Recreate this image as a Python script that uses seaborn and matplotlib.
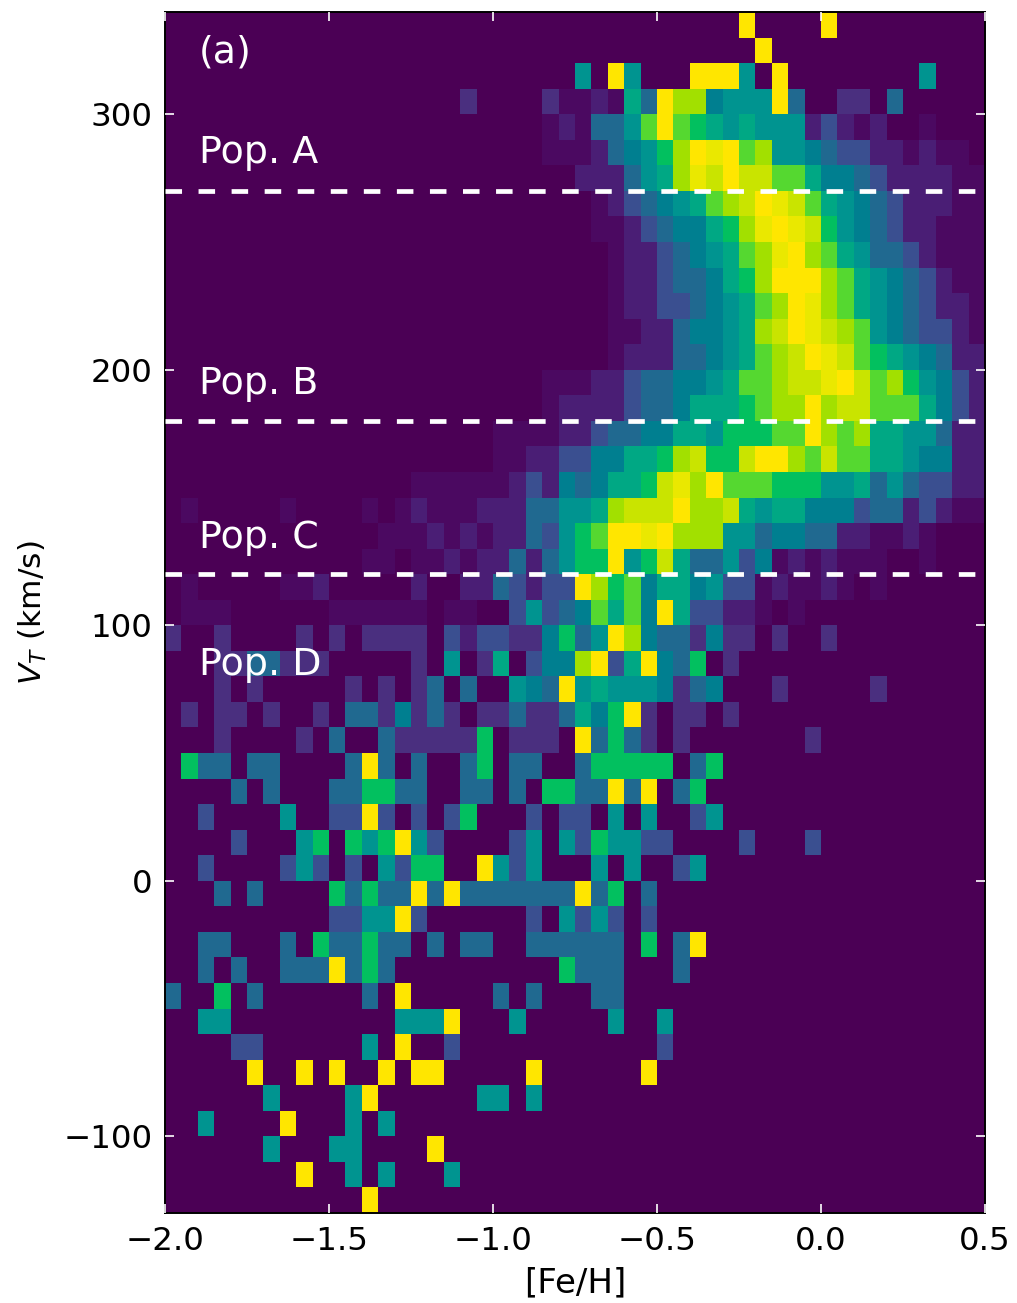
import numpy as np
import pandas as pd
import matplotlib
matplotlib.use("Agg")
import matplotlib.pyplot as plt
from matplotlib.colors import LinearSegmentedColormap
import seaborn as sns

# Each row is one 10 km/s bin, five groups of ten 0.05 dex bins.
# digits = tenths of the row maximum, - faint, p sparse purple, L Y near max, X max
rows_330_to_270 = [
    "0000000000 0000000000 0000000000 00000X0000 X000000000",
    "0000000000 0000000000 0000000000 000000X000 0000000000",
    "0000000000 0000000000 0000050X50 00XXX50X00 0000005000",
    "0000000000 00000000p0 000p--1-63 X994555X30 0pp0300000",
    "0000000000 0000000000 000-1-3358 X876565551 21-100-000",
    "0000000000 0000000000 000---1345 79XYX89554 32211-1--0",
    "0000000000 0000000000 0000011135 69YLXLL886 44321111--",
]
rows_260_to_200 = [
    "0000000000 0000000000 000000-123 45689LXYL8 65432111--",
    "0000000000 0000000000 000000--12 344679YXYL 7543211---",
    "0000000000 0000000000 0000000-11 2345689YX9 8653321---",
    "0000000000 0000000000 0000000-11 2334679XXX 98654321--",
    "0000000000 0000000000 0000000-11 22345689XY 986543211-",
    "0000000000 0000000000 0000000--1 1344569LXY L98543221-",
    "0000000000 0000000000 0000000-11 13345689LX YL87654311",
]
rows_190_to_130 = [
    "0000000000 0000000000 000---1123 34456889LL YXL8975421",
    "0000000000 0000000000 000-111123 346667899X 9LL8886421",
    "0000000000 0000000000 ----112334 466577788X 9896655311",
    "0000000000 0000000000 --11224466 79L77LXX98 L886654411",
    "0000000000 00000----- -121434667 LY9X888777 5563532211",
    "0-00000-00 00-0-1---1 1133556 9LL LX99L65664 44233121--",
    "0000000000 000---1-1- 1132578XXY X999553443 311--1-000",
]
rows_120_to_60 = [
    "0000000000 00--0--1-1 1313577X57 L633524-1- 1---00-000",
    "0-00000--1 0000010011 32122X9784 664522-1-- 1-0-000000",
    "0---000000 ------0--0 0252348684 X62211-0-0 0000000000",
    "p00p0000p0 p0pppp0212 2pp4735X94 33p4pp0p00 p000000000",
    "000pp33ppp 00000p050p 602449X26X 4370p00000 0000000000",
    "000p0p0000 0p0p0p3030 0543X56555 4p34000p00 000p000000",
    "0p0pp0p00p 033p4p3p0p p3pp3647Xp 0pp0p00000 0000000000",
]
rows_50_to_minus10 = [
    "000p0000p0 3003ppppp7 0ppp0X373p 0p0000000p 0000000000",
    "0733033000 03X3030037 0330037777 7037000000 0000000000",
    "0000303000 3377330033 0307733X3X 0370000000 0000000000",
    "0020000500 22X2020270 0020220505 0025000000 0000000000",
    "0000200057 0757X52000 0250527552 2000020002 0000000000",
    "0020000252 020527700X 5250005050 0250000000 0000000000",
    "0003030000 73733X3X33 33333X3703 0000000000 0000000000",
]
rows_minus20_to_minus130 = [
    "0000000000 2255X20000 0020525202 0000000000 0000000000",
    "0033000307 3373303033 0033333307 03X0000000 0000000000",
    "0030300333 X373000000 0000733300 0300000000 0000000000",
    "3007030000 0030X00000 3030003300 0000000000 0000000000",
    "0055000000 0000555X00 0500000500 5000000000 0000000000",
    "0000220000 0050X00200 0000000000 2000000000 0000000000",
    "00000X00X0 X00X0XX000 00X000000X 0000000000 0000000000",
    "0000005000 05X0000005 5050000000 0000000000 0000000000",
    "0050000X00 0505000000 0000000000 0000000000 0000000000",
    "0000005000 550000X000 0000000000 0000000000 0000000000",
    "00000000X0 0505000500 0000000000 0000000000 0000000000",
    "0000000000 00X0000000 0000000000 0000000000 0000000000",
]

level_values = {"-": 0.05, "p": 0.14, "L": 0.94, "Y": 0.97, "X": 1.0}
feh_edges = np.arange(-2.0, 0.5, 0.05)
vt_tops = np.arange(340, -130, -10)

feh_ticks = [-2.0, -1.5, -1.0, -0.5, 0.0, 0.5]
vt_ticks = [300, 200, 100, 0, -100]
pop_lines = [270, 180, 120]
pop_labels = ["Pop. A", "Pop. B", "Pop. C", "Pop. D"]
pop_label_y = [0.874, 0.682, 0.554, 0.448]

# colours, a bit more saturated than plain viridis
cmap_stops = [
    (0.0, "#4b0055"), (0.05, "#4b0a62"), (0.1, "#4a1f76"), (0.14, "#4a3080"),
    (0.2, "#3a4f90"), (0.3, "#1f6a90"), (0.4, "#007f90"), (0.5, "#009490"),
    (0.6, "#00a884"), (0.7, "#00c060"), (0.8, "#55d830"), (0.9, "#a0e000"),
    (0.94, "#c8e400"), (0.97, "#e8e800"), (1.0, "#ffe600"),
]


def parse_row(row):
    row = row.replace(" ", "")
    assert len(row) == 50, row
    return [level_values[c] if c in level_values else int(c) / 10 for c in row]


all_rows = (rows_330_to_270 + rows_260_to_200 + rows_190_to_130
            + rows_120_to_60 + rows_50_to_minus10 + rows_minus20_to_minus130)
df = pd.DataFrame([parse_row(r) for r in all_rows], index=vt_tops, columns=feh_edges)

sns.set_theme(style="white", rc={"font.family": "DejaVu Sans", "mathtext.fontset": "dejavusans"})
cmap = LinearSegmentedColormap.from_list("sampled", cmap_stops)

fig = plt.figure(figsize=(10.17, 13.03), dpi=100)
ax = fig.add_axes([165 / 1017, 90 / 1303, 820 / 1017, 1201 / 1303])
sns.heatmap(df, ax=ax, cmap=cmap, vmin=0, vmax=1, cbar=False, xticklabels=False, yticklabels=False)


def x_pos(feh):
    return (feh + 2.0) / 0.05


def y_pos(vt):
    return (340 - vt) / 10


for v in pop_lines:
    ax.axhline(y_pos(v), color="white", lw=3.4, dashes=(3.5, 3.5), zorder=3)

ax.set_axisbelow(False)
ax.set_xticks([x_pos(f) for f in feh_ticks])
ax.set_xticklabels([f"{f:.1f}".replace("-", "\u2212") for f in feh_ticks])
ax.set_yticks([y_pos(v) for v in vt_ticks])
ax.set_yticklabels([str(v).replace("-", "\u2212") for v in vt_ticks], va="center_baseline")
ax.tick_params(axis="both", which="major", direction="in", length=6.5, width=1.2, color="white",
               top=True, right=True, bottom=True, left=True, labelsize=23.4, labelcolor="black", pad=9)
for lab in ax.get_xticklabels() + ax.get_yticklabels():
    lab.set_rotation(0)

for side in ax.spines.values():
    side.set_visible(True)
    side.set_color("black")
    side.set_linewidth(1.4)

ax.set_xlabel("[Fe/H]", fontsize=24.5, color="black", labelpad=7)
ax.set_ylabel("$V_T$ (km/s)", fontsize=22.5, color="black", labelpad=10)

ax.text(0.0415, 0.958, "(a)", transform=ax.transAxes, color="white", fontsize=27.4, va="baseline")
for lab, y in zip(pop_labels, pop_label_y):
    ax.text(0.0415, y, lab, transform=ax.transAxes, color="white", fontsize=27.4, va="baseline")

fig.savefig("out.png", dpi=100)
